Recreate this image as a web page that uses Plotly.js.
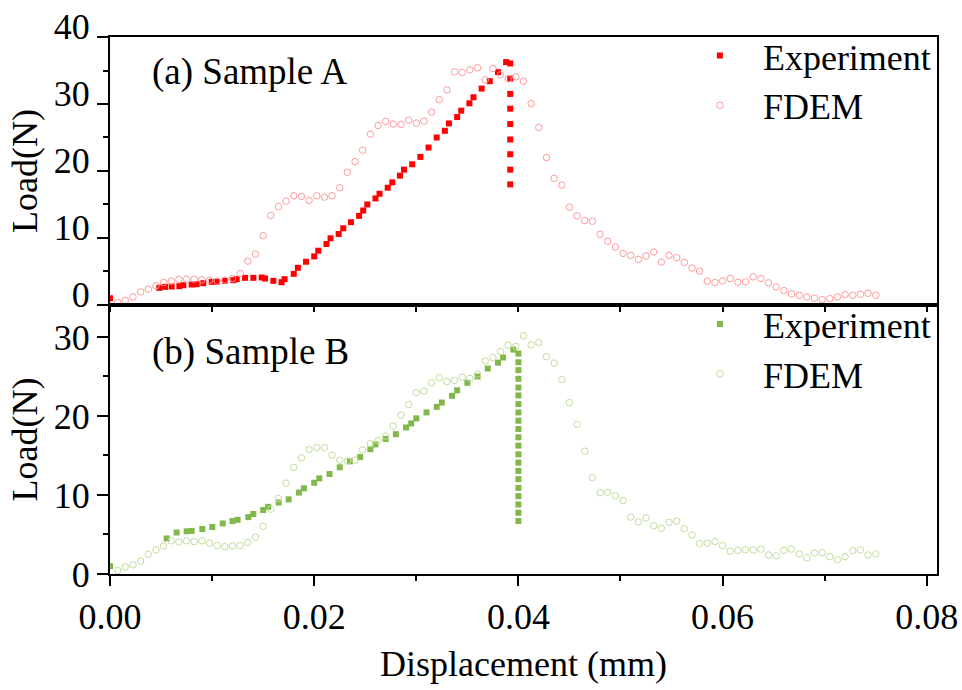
<!DOCTYPE html>
<html>
<head>
<meta charset="utf-8">
<script src="https://cdn.plot.ly/plotly-3.0.1.min.js"></script>
<style>html,body{margin:0;padding:0;background:#fff;}#chart{width:962px;height:690px;}</style>
</head>
<body>
<div id="chart"></div>
<script>
// ---------- DATA ----------
// Sample A – experiment (displacement in mm, load in N)
const expAx = [0, 0.00483, 0.00539, 0.00604, 0.00679, 0.00718, 0.0080, 0.00849, 0.00914, 0.00996, 0.01045, 0.01126, 0.01208, 0.01241, 0.01322, 0.01404, 0.01486, 0.01518, 0.0160, 0.0168, 0.0171, 0.0180, 0.0184, 0.0192, 0.0200, 0.0204, 0.0212, 0.0216, 0.0224, 0.02285, 0.0236, 0.0244, 0.0248, 0.0252, 0.0260, 0.0264, 0.0272, 0.02765, 0.0284, 0.0288, 0.0296, 0.0304, 0.0312, 0.0320, 0.0328, 0.0332, 0.0340, 0.0344, 0.0352, 0.0356, 0.0364, 0.0372, 0.0380, 0.0388, 0.0392, 0.0392, 0.0392, 0.0392, 0.0392, 0.0392, 0.0392, 0.0392, 0.0392];
const expAy = [1.0, 2.55, 2.7, 2.75, 2.8, 2.95, 3.05, 3.1, 3.25, 3.45, 3.45, 3.6, 3.7, 3.85, 4.05, 4.05, 4.1, 3.95, 3.6, 3.4, 3.85, 4.65, 5.55, 6.45, 7.25, 8.1, 9.1, 9.95, 10.6, 11.45, 12.35, 13.3, 14.1, 15.0, 15.9, 16.6, 17.5, 18.3, 19.3, 20.2, 21.0, 22.1, 23.5, 25.0, 26.0, 27.1, 28.05, 29.0, 30.1, 31.0, 32.3, 33.4, 34.75, 36.25, 36.05, 33.8, 31.5, 29.3, 27.0, 24.7, 22.5, 20.2, 18.0];

// FDEM displacement samples (shared by both samples)
const fdemX = [0.00075, 0.0015, 0.00225, 0.003, 0.00375, 0.0045, 0.00525, 0.006, 0.00675, 0.0075,
  0.00825, 0.009, 0.00975, 0.0105, 0.01125, 0.012, 0.01275, 0.0135, 0.01425, 0.015,
  0.01575, 0.0165, 0.01725, 0.018, 0.01875, 0.0195, 0.02025, 0.021, 0.02175, 0.0225,
  0.02325, 0.024, 0.02475, 0.0255, 0.02625, 0.027, 0.02775, 0.0285, 0.02925, 0.03,
  0.03075, 0.0315, 0.03225, 0.033, 0.03375, 0.0345, 0.03525, 0.036, 0.03675, 0.0375,
  0.03825, 0.039, 0.03975, 0.0405, 0.04125, 0.042, 0.04275, 0.0435, 0.04425, 0.045,
  0.04575, 0.0465, 0.04725, 0.048, 0.04875, 0.0495, 0.05025, 0.051, 0.05175, 0.0525,
  0.05325, 0.054, 0.05475, 0.0555, 0.05625, 0.057, 0.05775, 0.0585, 0.05925, 0.06,
  0.06075, 0.0615, 0.06225, 0.063, 0.06375, 0.0645, 0.06525, 0.066, 0.06675, 0.0675,
  0.06825, 0.069, 0.06975, 0.0705, 0.07125, 0.072, 0.07275, 0.0735, 0.07425, 0.075];

// Sample A – FDEM load
const fdemAy = [0.35, 0.7, 1.2, 1.95, 2.35, 2.85, 3.35, 3.55, 3.8, 3.85,
  3.85, 3.75, 3.7, 3.55, 3.7, 3.95, 4.7, 6.55, 7.6, 10.35,
  13.35, 14.7, 15.5, 16.3, 16.2, 15.6, 16.3, 16.1, 16.3, 17.5,
  19.8, 21.4, 23.1, 25.5, 26.8, 27.4, 27.0, 26.95, 27.6, 27.15,
  27.45, 28.8, 30.65, 32.1, 34.8, 34.7, 35.1, 35.4, 33.6, 35.3,
  34.35, 33.75, 34.05, 33.4, 30.05, 26.5, 22.0, 18.9, 17.9, 14.6,
  13.3, 12.6, 12.5, 10.55, 9.5, 8.65, 7.7, 7.4, 6.8, 7.3,
  7.9, 6.4, 7.4, 7.05, 6.35, 5.5, 5.05, 3.55, 3.35, 3.6,
  3.95, 3.4, 3.45, 4.2, 3.95, 3.3, 2.7, 2.15, 1.65, 1.45,
  1.2, 1.0, 0.8, 0.95, 1.2, 1.55, 1.45, 1.6, 1.75, 1.45];

// Sample B – experiment
const expBx = [0, 0.00555, 0.00653, 0.00751, 0.0080, 0.00904, 0.01002, 0.01104, 0.0120, 0.0125, 0.01355, 0.01404, 0.0150, 0.0155, 0.01652, 0.0175, 0.0185, 0.0190, 0.0200, 0.0205, 0.0215, 0.0225, 0.0235, 0.0245, 0.0255, 0.0260, 0.0270, 0.0280, 0.0290, 0.0295, 0.0300, 0.0310, 0.0320, 0.0325, 0.0335, 0.0340, 0.0350, 0.0360, 0.0370, 0.0380, 0.0385, 0.0395,
  0.0400, 0.0400, 0.0400, 0.0400, 0.0400, 0.0400, 0.0400, 0.0400, 0.0400, 0.0400, 0.0400, 0.0400, 0.0400, 0.0400, 0.0400, 0.0400, 0.0400, 0.0400, 0.0400, 0.0400, 0.0400];
const expBy = [1.0, 4.5, 5.25, 5.4, 5.45, 5.7, 5.95, 6.4, 6.7, 6.85, 7.2, 7.6, 8.1, 8.5, 9.05, 9.45, 10.3, 10.85, 11.55, 12.1, 12.65, 13.5, 14.25, 14.8, 15.8, 16.4, 17.1, 17.7, 18.55, 19.05, 19.7, 20.45, 21.15, 21.7, 22.55, 23.25, 24.2, 25.0, 26.0, 26.75, 27.4, 28.4,
  27.9, 26.8, 25.8, 24.7, 23.6, 22.6, 21.5, 20.45, 19.4, 18.35, 17.3, 16.25, 15.15, 14.1, 13.05, 12.0, 10.9, 9.85, 8.8, 7.75, 6.7];

// Sample B – FDEM load
const fdemBy = [0.45, 0.9, 1.15, 1.65, 2.5, 3.05, 3.55, 4.2, 4.05, 4.2,
  4.1, 4.2, 3.9, 3.6, 3.45, 3.55, 3.6, 4.0, 4.65, 6.05,
  8.2, 9.55, 11.5, 13.5, 14.7, 15.75, 16.0, 16.0, 15.05, 14.4,
  14.3, 14.4, 15.7, 16.5, 16.9, 17.45, 18.7, 20.1, 21.45, 22.95,
  23.15, 24.2, 24.85, 24.35, 24.5, 24.9, 24.75, 25.3, 26.95, 27.4,
  28.15, 28.95, 28.8, 30.15, 29.0, 29.3, 27.5, 26.7, 24.6, 21.7,
  18.95, 15.55, 12.2, 10.3, 10.35, 9.9, 9.3, 7.2, 6.6, 7.1,
  6.1, 5.8, 6.55, 6.7, 5.75, 4.95, 3.85, 3.9, 4.1, 3.6,
  2.9, 3.0, 3.05, 3.05, 3.15, 2.4, 2.3, 3.0, 3.15, 2.55,
  2.05, 2.65, 2.7, 2.2, 1.8, 2.2, 2.95, 3.05, 2.4, 2.55];

const seriesNames = ['Experiment', 'FDEM'];
const panelLabels = ['(a) Sample A', '(b) Sample B'];
const xTickLabels = ['0.00', '0.02', '0.04', '0.06', '0.08'];
const xTickVals = [0, 0.02, 0.04, 0.06, 0.08];

// ---------- STYLE ----------
const FONT = 'Liberation Serif, Times New Roman, serif';
const FS = 36;
const red = '#ff0000', redLight = '#ff9a9a';
const green = '#82b849', greenLight = '#c3dd9f';

const traces = [
  {x: expAx, y: expAy, xaxis: 'x', yaxis: 'y', name: seriesNames[0], type: 'scatter', mode: 'markers',
   marker: {symbol: 'square', size: 6, color: red}, legend: 'legend'},
  {x: fdemX, y: fdemAy, xaxis: 'x', yaxis: 'y', name: seriesNames[1], type: 'scatter', mode: 'markers',
   marker: {symbol: 'circle-open', size: 6.5, color: redLight, line: {width: 1}}, legend: 'legend'},
  {x: expBx, y: expBy, xaxis: 'x2', yaxis: 'y2', name: seriesNames[0], type: 'scatter', mode: 'markers',
   marker: {symbol: 'square', size: 6, color: green}, legend: 'legend2'},
  {x: fdemX, y: fdemBy, xaxis: 'x2', yaxis: 'y2', name: seriesNames[1], type: 'scatter', mode: 'markers',
   marker: {symbol: 'circle-open', size: 6.5, color: greenLight, line: {width: 1}}, legend: 'legend2'}
];

const axCommon = {showline: true, linecolor: '#000', linewidth: 2, mirror: true, showgrid: false, zeroline: false,
  ticks: 'outside', tickcolor: '#000', tickwidth: 2, tickfont: {family: FONT, size: FS, color: '#000'}};

const legendCommon = {font: {family: FONT, size: FS, color: '#000'}, bgcolor: 'rgba(0,0,0,0)', borderwidth: 0,
  xref: 'paper', yref: 'paper', xanchor: 'left', yanchor: 'top', itemwidth: 76, tracegroupgap: 0};

const layout = {
  width: 962, height: 690,
  margin: {l: 110, r: 25, t: 37, b: 116, pad: 0},
  paper_bgcolor: '#fff', plot_bgcolor: '#fff',
  font: {family: FONT, size: FS, color: '#000'},
  showlegend: true,
  xaxis: Object.assign({}, axCommon, {domain: [0, 1], range: [0, 0.081], anchor: 'y', matches: 'x2',
    dtick: 0.01, tick0: 0, ticklen: 5, showticklabels: false}),
  yaxis: Object.assign({}, axCommon, {domain: [0.501, 1], range: [0, 40], anchor: 'x',
    dtick: 10, tick0: 0, ticklen: 11, ticklabelshift: -11,
    minor: {dtick: 5, ticklen: 5, tickwidth: 2, tickcolor: '#000', ticks: 'outside'},
    title: {text: 'Load(N)', font: {family: FONT, size: FS}, standoff: 5}}),
  xaxis2: Object.assign({}, axCommon, {domain: [0, 1], range: [0, 0.081], anchor: 'y2',
    tickvals: xTickVals, ticktext: xTickLabels, ticklen: 10,
    minor: {dtick: 0.01, tick0: 0, ticklen: 5, tickwidth: 2, tickcolor: '#000', ticks: 'outside'},
    title: {text: 'Displacement (mm)', font: {family: FONT, size: FS}, standoff: 15}}),
  yaxis2: Object.assign({}, axCommon, {domain: [0, 0.501], range: [0, 34.05], anchor: 'x2',
    dtick: 10, tick0: 0, ticklen: 11,
    minor: {dtick: 5, ticklen: 5, tickwidth: 2, tickcolor: '#000', ticks: 'outside'},
    title: {text: 'Load(N)', font: {family: FONT, size: FS}, standoff: 5}}),
  legend: Object.assign({}, legendCommon, {x: 0.6855, y: 1.021}),
  legend2: Object.assign({}, legendCommon, {x: 0.6855, y: 0.521}),
  annotations: [
    {text: panelLabels[0], xref: 'paper', yref: 'paper', x: 0.0484, y: 0.935, xanchor: 'left', yanchor: 'middle',
     showarrow: false, font: {family: FONT, size: 37, color: '#000'}},
    {text: panelLabels[1], xref: 'paper', yref: 'paper', x: 0.0484, y: 0.4135, xanchor: 'left', yanchor: 'middle',
     showarrow: false, font: {family: FONT, size: 37, color: '#000'}}
  ]
};

Plotly.newPlot('chart', traces, layout, {displayModeBar: false, staticPlot: true});
</script>
</body>
</html>
